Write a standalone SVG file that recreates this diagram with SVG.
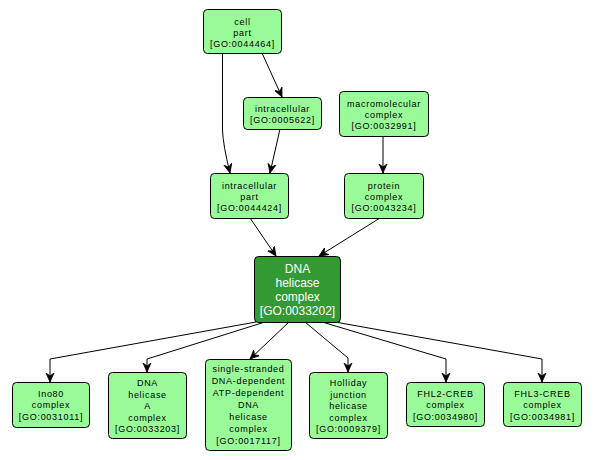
<svg xmlns="http://www.w3.org/2000/svg" width="595" height="460" viewBox="0 0 595 460">
<defs>
<style>
.n rect{fill:#98fb98;stroke:#000;stroke-width:1}
.n text{font-family:"Liberation Sans",Arial,sans-serif;font-size:9px;letter-spacing:0.7px;fill:#000;text-anchor:middle}
#n6 rect{fill:#339933}
#n6 text{font-size:12px;letter-spacing:0;fill:#fff}
.e path{fill:none;stroke:#000;stroke-width:1;marker-end:url(#a)}
</style>
<marker id="a" markerUnits="userSpaceOnUse" markerWidth="10" markerHeight="10" refX="9" refY="5" orient="auto">
<path d="M0,1 L9,5 L0,9 L3,5 z" fill="#000" stroke="#000" stroke-width="0.8" stroke-linejoin="miter"/>
</marker>
</defs>
<rect width="595" height="460" fill="#fff"/>
<g class="e">
<path d="M222.5,53 L222.5,130 Q223,145 230,173"/>
<path d="M262,53 L282,97"/>
<path d="M280,129 L270,173"/>
<path d="M383,136 L383,173"/>
<path d="M250,218 L276,256"/>
<path d="M380,218 L319,256"/>
<path d="M256,322 L50,359 L50,382"/>
<path d="M265,322 L147,359 L147,372"/>
<path d="M289,322 L250,359"/>
<path d="M305,322 L348,358 L348,372"/>
<path d="M322,322 L446,359 L446,382"/>
<path d="M335,322 L542,359 L542,382"/>
</g>
<g class="n" id="n1"><rect x="203.5" y="9.5" width="78" height="44" rx="4"/><text x="242.5" y="24.5">cell<tspan x="242.5" dy="11">part</tspan><tspan x="242.5" dy="11">[GO:0044464]</tspan></text></g>
<g class="n" id="n2"><rect x="243.5" y="97.5" width="78" height="32" rx="4"/><text x="282.5" y="112">intracellular<tspan x="282.5" dy="11">[GO:0005622]</tspan></text></g>
<g class="n" id="n3"><rect x="339.5" y="91.5" width="89" height="45" rx="4"/><text x="384" y="106.5">macromolecular<tspan x="384" dy="11">complex</tspan><tspan x="384" dy="11">[GO:0032991]</tspan></text></g>
<g class="n" id="n4"><rect x="210.5" y="173.5" width="78" height="45" rx="4"/><text x="249.5" y="188.5">intracellular<tspan x="249.5" dy="11">part</tspan><tspan x="249.5" dy="11">[GO:0044424]</tspan></text></g>
<g class="n" id="n5"><rect x="344.5" y="173.5" width="79" height="45" rx="4"/><text x="384" y="188.5">protein<tspan x="384" dy="11">complex</tspan><tspan x="384" dy="11">[GO:0043234]</tspan></text></g>
<g class="n" id="n6"><rect x="254.5" y="256.5" width="86" height="66" rx="4"/><text x="297.5" y="272.5">DNA<tspan x="297.5" dy="14">helicase</tspan><tspan x="297.5" dy="14">complex</tspan><tspan x="297.5" dy="14">[GO:0033202]</tspan></text></g>
<g class="n" id="n7"><rect x="12.5" y="382.5" width="77" height="45" rx="4"/><text x="51" y="396.5">Ino80<tspan x="51" dy="11.5">complex</tspan><tspan x="51" dy="11.5">[GO:0031011]</tspan></text></g>
<g class="n" id="n8"><rect x="108.5" y="372.5" width="78" height="66" rx="4"/><text x="147.5" y="386">DNA<tspan x="147.5" dy="11.5">helicase</tspan><tspan x="147.5" dy="11.5">A</tspan><tspan x="147.5" dy="11.5">complex</tspan><tspan x="147.5" dy="11.5">[GO:0033203]</tspan></text></g>
<g class="n" id="n9"><rect x="205.5" y="359.5" width="86" height="91" rx="4"/><text x="248.5" y="372">single-stranded<tspan x="248.5" dy="12">DNA-dependent</tspan><tspan x="248.5" dy="12">ATP-dependent</tspan><tspan x="248.5" dy="12">DNA</tspan><tspan x="248.5" dy="12">helicase</tspan><tspan x="248.5" dy="12">complex</tspan><tspan x="248.5" dy="12">[GO:0017117]</tspan></text></g>
<g class="n" id="n10"><rect x="309.5" y="372.5" width="78" height="66" rx="4"/><text x="348.5" y="386">Holliday<tspan x="348.5" dy="11.5">junction</tspan><tspan x="348.5" dy="11.5">helicase</tspan><tspan x="348.5" dy="11.5">complex</tspan><tspan x="348.5" dy="11.5">[GO:0009379]</tspan></text></g>
<g class="n" id="n11"><rect x="406.5" y="382.5" width="78" height="44" rx="4"/><text x="445.5" y="396.5">FHL2-CREB<tspan x="445.5" dy="11.5">complex</tspan><tspan x="445.5" dy="11.5">[GO:0034980]</tspan></text></g>
<g class="n" id="n12"><rect x="503.5" y="382.5" width="78" height="44" rx="4"/><text x="542.5" y="396.5">FHL3-CREB<tspan x="542.5" dy="11.5">complex</tspan><tspan x="542.5" dy="11.5">[GO:0034981]</tspan></text></g>
</svg>
